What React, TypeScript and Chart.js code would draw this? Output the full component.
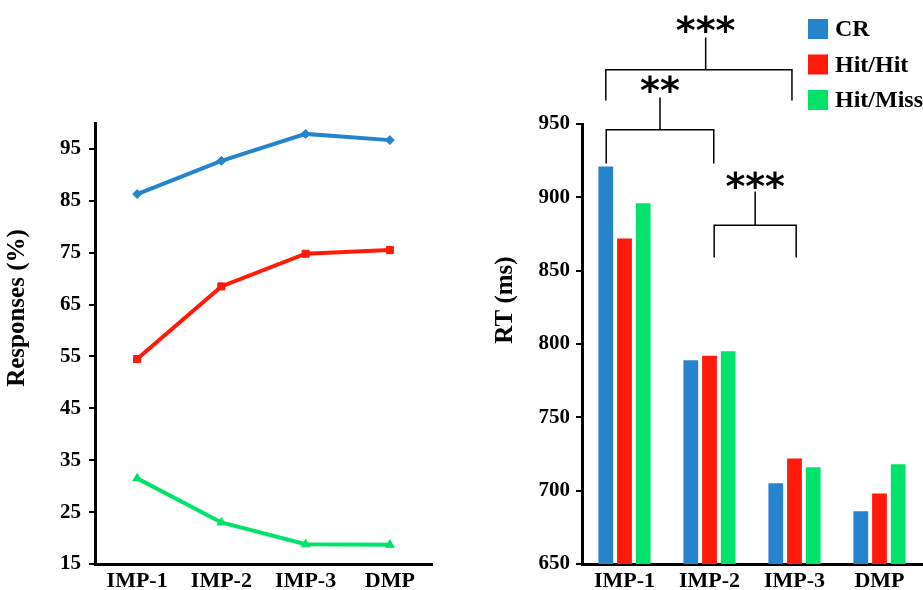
import React, { useEffect, useRef } from "react";
import { Chart, registerables } from "chart.js";

Chart.register(...registerables);

// ---------------- data ----------------
const categories = ["IMP-1", "IMP-2", "IMP-3", "DMP"];
const seriesNames = ["CR", "Hit/Hit", "Hit/Miss"];
const seriesColors = ["#2684cc", "#ff1a0a", "#00e36a"];

const responsesCR = [86.3, 92.7, 97.9, 96.7];
const responsesHitHit = [54.5, 68.5, 74.8, 75.5];
const responsesHitMiss = [31.5, 23.0, 18.8, 18.7];
const responseTicks = [15, 25, 35, 45, 55, 65, 75, 85, 95];

const rtCR = [921, 789, 705, 686];
const rtHitHit = [872, 792, 722, 698];
const rtHitMiss = [896, 795, 716, 718];
const rtTicks = [650, 700, 750, 800, 850, 900, 950];

// significance brackets: ends given as [category index, shift in category widths], heights in RT units
const sigLabels = ["***", "**", "***"];
const sigLeft = [[0, -0.22], [0, -0.215], [1, 0.055]];
const sigRight = [[2, -0.03], [1, 0.05], [2, 0.02]];
const sigStem = [[1, -0.045], null, null];
const sigBar = [987, 946, 881];
const sigLegEnd = [966, 923, 859];
const sigStemTop = [1009, 968, 904];
const sigTextAt = [1018, 977, 912];

// ---------------- styling ----------------
const SERIF = "'Liberation Serif', 'Times New Roman', serif";
Chart.defaults.font.family = SERIF;
Chart.defaults.font.weight = "bold";
Chart.defaults.color = "#000";

const axisTitlePlugin = {
  id: "axisTitle",
  afterDraw(chart: any, _a: any, opts: any) {
    if (!opts || !opts.text) return;
    const ctx = chart.ctx;
    ctx.save();
    ctx.translate(opts.x, opts.y);
    ctx.rotate(-Math.PI / 2);
    ctx.font = `bold ${opts.size}px ${SERIF}`;
    ctx.fillStyle = "#000";
    ctx.textAlign = "center";
    ctx.textBaseline = "middle";
    ctx.fillText(opts.text, 0, 0);
    ctx.restore();
  },
};

const bracketPlugin = {
  id: "brackets",
  afterDraw(chart: any, _a: any, opts: any) {
    if (!opts || !opts.enabled) return;
    const xs = chart.scales.x;
    const ys = chart.scales.y;
    const catW = xs.width / categories.length;
    const px = (p: number[]) => xs.getPixelForValue(p[0]) + p[1] * catW;
    const ctx = chart.ctx;
    ctx.save();
    ctx.strokeStyle = "#000";
    ctx.lineWidth = 1.5;
    for (let i = 0; i < sigLabels.length; i++) {
      const xl = px(sigLeft[i]);
      const xr = px(sigRight[i]);
      const xm = sigStem[i] ? px(sigStem[i] as number[]) : (xl + xr) / 2;
      const yb = ys.getPixelForValue(sigBar[i]);
      const yl = ys.getPixelForValue(sigLegEnd[i]);
      const yt = ys.getPixelForValue(sigStemTop[i]);
      ctx.beginPath();
      ctx.moveTo(xl, yl);
      ctx.lineTo(xl, yb);
      ctx.lineTo(xr, yb);
      ctx.lineTo(xr, yl);
      ctx.moveTo(xm, yb);
      ctx.lineTo(xm, yt);
      ctx.stroke();
      ctx.font = `bold 38px 'DejaVu Sans', sans-serif`;
      ctx.fillStyle = "#000";
      ctx.textAlign = "center";
      ctx.textBaseline = "alphabetic";
      const m = ctx.measureText(sigLabels[i]);
      const cy = ys.getPixelForValue(sigTextAt[i]);
      const base = cy + (m.actualBoundingBoxAscent - m.actualBoundingBoxDescent) / 2;
      ctx.fillText(sigLabels[i], xm, base);
    }
    ctx.restore();
  },
};

const boxLegendPlugin = {
  id: "boxLegend",
  afterDraw(chart: any, _a: any, opts: any) {
    if (!opts || !opts.enabled) return;
    const ctx = chart.ctx;
    const x0 = chart.chartArea.right - 114;
    ctx.save();
    chart.data.datasets.forEach((ds: any, i: number) => {
      const cy = opts.top + i * 35.5;
      ctx.fillStyle = ds.backgroundColor;
      ctx.fillRect(x0, cy - 10, 20, 20);
      ctx.fillStyle = "#000";
      ctx.font = `bold 24px ${SERIF}`;
      ctx.textAlign = "left";
      ctx.textBaseline = "middle";
      ctx.fillText(ds.label, x0 + 27, cy + 1);
    });
    ctx.restore();
  },
};

function yAxis(min: number, max: number, ticks: number[], width: number, pad: number) {
  return {
    min,
    max,
    afterBuildTicks: (axis: any) => {
      axis.ticks = ticks.map((v) => ({ value: v }));
    },
    afterFit: (axis: any) => {
      axis.width = width;
    },
    grid: { display: true, drawOnChartArea: false, drawTicks: true, tickLength: 6, color: "#000", lineWidth: 2 },
    border: { display: true, color: "#000", width: 3 },
    ticks: { font: { size: 21, weight: "bold" }, color: "#000", padding: pad },
  };
}

function xAxis(offset: boolean) {
  return {
    type: "category",
    offset,
    afterFit: (axis: any) => {
      axis.height = 26;
    },
    grid: { display: false, drawTicks: false, tickLength: 0 },
    border: { display: true, color: "#000", width: 3 },
    ticks: { font: { size: 22, weight: "bold" }, color: "#000", padding: 4, maxRotation: 0, autoSkip: false },
  };
}

function lineConfig(): any {
  const mk = (label: string, data: number[], color: string, style: string, r: number) => ({
    label,
    data,
    borderColor: color,
    backgroundColor: color,
    borderWidth: 4,
    pointStyle: style,
    pointRadius: r,
    pointBorderWidth: 1,
    pointBackgroundColor: color,
    pointBorderColor: color,
    tension: 0,
  });
  return {
    type: "line",
    data: {
      labels: categories,
      datasets: [
        mk(seriesNames[0], responsesCR, seriesColors[0], "rectRot", 4.5),
        mk(seriesNames[1], responsesHitHit, seriesColors[1], "rect", 5),
        mk(seriesNames[2], responsesHitMiss, seriesColors[2], "triangle", 5),
      ],
    },
    options: {
      responsive: false,
      animation: false,
      layout: { padding: { top: 123, right: 28, left: 0, bottom: 0 } },
      scales: {
        x: xAxis(true),
        y: yAxis(15, 100, responseTicks, 95, 8),
      },
      plugins: {
        legend: { display: false },
        tooltip: { enabled: false },
        axisTitle: { text: "Responses (%)", x: 18, y: 308, size: 25 },
      },
    },
    plugins: [axisTitlePlugin],
  };
}

function barConfig(): any {
  const mk = (label: string, data: number[], color: string) => ({
    label,
    data,
    backgroundColor: color,
    borderWidth: 0,
    categoryPercentage: 0.66,
    barPercentage: 0.79,
  });
  return {
    type: "bar",
    data: {
      labels: categories,
      datasets: [
        mk(seriesNames[0], rtCR, seriesColors[0]),
        mk(seriesNames[1], rtHitHit, seriesColors[1]),
        mk(seriesNames[2], rtHitMiss, seriesColors[2]),
      ],
    },
    options: {
      responsive: false,
      animation: false,
      layout: { padding: { top: 124, right: 1, left: 0, bottom: 0 } },
      scales: {
        x: xAxis(true),
        y: yAxis(650, 950, rtTicks, 122, 6),
      },
      plugins: {
        legend: { display: false },
        tooltip: { enabled: false },
        axisTitle: { text: "RT (ms)", x: 46, y: 300, size: 25 },
        brackets: { enabled: true },
        boxLegend: { enabled: true, top: 29 },
      },
    },
    plugins: [axisTitlePlugin, bracketPlugin, boxLegendPlugin],
  };
}

function ChartCanvas(props: { make: () => any; left: number; width: number; height: number }) {
  const ref = useRef<HTMLCanvasElement | null>(null);
  useEffect(() => {
    const chart = new Chart(ref.current as HTMLCanvasElement, props.make());
    return () => chart.destroy();
  }, []);
  return (
    <canvas
      ref={ref}
      width={props.width}
      height={props.height}
      style={{ position: "absolute", left: props.left, top: 0, width: props.width, height: props.height }}
    />
  );
}

export default function App() {
  return (
    <div style={{ position: "fixed", left: 0, top: 0, width: 923, height: 590, background: "#fff", overflow: "hidden" }}>
      <ChartCanvas make={lineConfig} left={0} width={460} height={590} />
      <ChartCanvas make={barConfig} left={460} width={463} height={590} />
    </div>
  );
}
